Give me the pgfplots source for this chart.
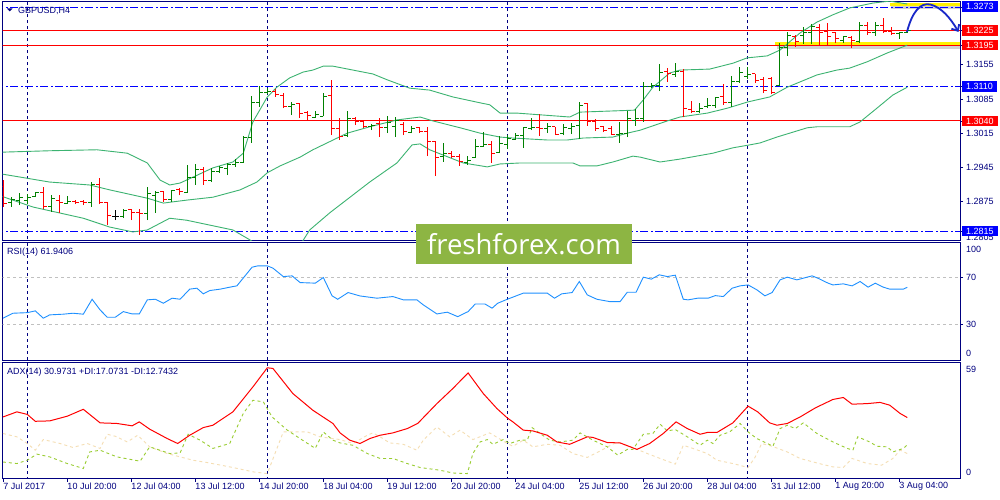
\documentclass[border=0pt]{standalone}
\usepackage{pgfplots}
\pgfplotsset{compat=1.18}
\usepackage{pgfplotstable}
\usepackage{fontspec}
\setmainfont{Liberation Sans}
\newfontfamily\logofont{Open Sans}
\usetikzlibrary{arrows.meta}
\definecolor{navy}{RGB}{0,0,128}
\definecolor{mtgreen}{RGB}{0,128,0}
\definecolor{mtred}{RGB}{255,0,0}
\definecolor{bbgreen}{RGB}{60,179,113}
\definecolor{rsiblue}{RGB}{30,144,255}
\definecolor{plusdi}{RGB}{154,205,50}
\definecolor{minusdi}{RGB}{245,222,179}
\definecolor{lblue}{RGB}{0,0,255}
\definecolor{silv}{RGB}{192,192,192}
\definecolor{logogreen}{RGB}{141,181,67}
\definecolor{arrowblue}{RGB}{25,40,200}

\pgfplotstableread{
i O H L C
1 1.2874 1.2884 1.2864 1.2880
2 1.2878 1.2893 1.2868 1.2884
3 1.2878 1.2891 1.2870 1.2884
4 1.2886 1.2895 1.2884 1.2893
6 1.2864 1.2888 1.2854 1.2882
8 1.2872 1.2886 1.2870 1.2876
11 1.2874 1.2915 1.2864 1.2909
15 1.2844 1.2860 1.2841 1.2856
18 1.2850 1.2905 1.2837 1.2891
19 1.2888 1.2897 1.2852 1.2893
21 1.2880 1.2899 1.2874 1.2897
23 1.2893 1.2950 1.2893 1.2925
24 1.2925 1.2952 1.2909 1.2940
26 1.2919 1.2944 1.2915 1.2936
27 1.2936 1.2948 1.2934 1.2944
28 1.2942 1.2954 1.2929 1.2950
29 1.2950 1.2962 1.2946 1.2954
30 1.2954 1.3009 1.2954 1.3007
31 1.3007 1.3091 1.2995 1.3077
32 1.3077 1.3111 1.3069 1.3099
33 1.3099 1.3107 1.3095 1.3101
36 1.3069 1.3079 1.3052 1.3073
39 1.3048 1.3060 1.3046 1.3054
40 1.3050 1.3097 1.3050 1.3089
43 1.3011 1.3060 1.3007 1.3044
46 1.3028 1.3034 1.3021 1.3030
48 1.3026 1.3050 1.3015 1.3036
49 1.3028 1.3048 1.3007 1.3040
51 1.3017 1.3030 1.3015 1.3024
55 1.2968 1.2995 1.2956 1.2974
58 1.2954 1.2968 1.2950 1.2960
59 1.2966 1.3003 1.2964 1.2987
60 1.2987 1.3017 1.2987 1.2991
62 1.2976 1.3009 1.2974 1.2993
63 1.2991 1.3011 1.2983 1.3005
64 1.3003 1.3015 1.3001 1.3011
65 1.3011 1.3028 1.2985 1.3026
66 1.3024 1.3046 1.3021 1.3026
68 1.3024 1.3036 1.3015 1.3028
70 1.3015 1.3034 1.3011 1.3026
71 1.3024 1.3036 1.3013 1.3028
72 1.3030 1.3079 1.3003 1.3071
77 1.3013 1.3038 1.2995 1.3015
78 1.3015 1.3060 1.3007 1.3044
79 1.3040 1.3064 1.3030 1.3044
80 1.3044 1.3120 1.3038 1.3111
81 1.3111 1.3118 1.3107 1.3113
82 1.3113 1.3156 1.3101 1.3140
84 1.3134 1.3158 1.3130 1.3142
87 1.3060 1.3077 1.3056 1.3066
88 1.3069 1.3087 1.3066 1.3071
89 1.3071 1.3089 1.3066 1.3087
91 1.3077 1.3132 1.3069 1.3120
92 1.3120 1.3150 1.3118 1.3138
93 1.3130 1.3150 1.3126 1.3134
97 1.3113 1.3199 1.3111 1.3191
98 1.3191 1.3222 1.3173 1.3214
100 1.3214 1.3232 1.3197 1.3220
101 1.3220 1.3238 1.3197 1.3234
105 1.3205 1.3214 1.3199 1.3212
107 1.3203 1.3242 1.3199 1.3236
109 1.3220 1.3242 1.3214 1.3236
112 1.3218 1.3222 1.3208 1.3220
113 1.3220 1.3228 1.3220 1.3224
}\bull

\pgfplotstableread{
i O H L C
0 1.2905 1.2919 1.2864 1.2872
5 1.2893 1.2905 1.2860 1.2864
7 1.2878 1.2888 1.2852 1.2874
9 1.2876 1.2878 1.2870 1.2874
10 1.2876 1.2878 1.2868 1.2874
12 1.2909 1.2923 1.2870 1.2874
13 1.2874 1.2874 1.2827 1.2846
16 1.2858 1.2860 1.2837 1.2852
17 1.2852 1.2860 1.2807 1.2850
20 1.2895 1.2897 1.2874 1.2880
22 1.2899 1.2903 1.2888 1.2895
25 1.2940 1.2946 1.2909 1.2919
34 1.3101 1.3105 1.3089 1.3095
35 1.3093 1.3097 1.3066 1.3069
37 1.3075 1.3077 1.3046 1.3056
38 1.3058 1.3060 1.3042 1.3052
41 1.3091 1.3124 1.3011 1.3024
42 1.3024 1.3046 1.3001 1.3009
44 1.3044 1.3048 1.3032 1.3038
45 1.3038 1.3042 1.3026 1.3028
47 1.3034 1.3046 1.3007 1.3026
50 1.3032 1.3038 1.3011 1.3019
52 1.3026 1.3028 1.3015 1.3019
53 1.3019 1.3028 1.2968 1.2997
54 1.2997 1.2999 1.2927 1.2966
56 1.2974 1.2979 1.2964 1.2968
57 1.2968 1.2972 1.2948 1.2956
61 1.2991 1.2999 1.2954 1.2974
67 1.3026 1.3054 1.3009 1.3024
69 1.3028 1.3028 1.3011 1.3013
73 1.3075 1.3077 1.3030 1.3038
74 1.3038 1.3044 1.3019 1.3024
75 1.3028 1.3030 1.3017 1.3021
76 1.3024 1.3030 1.3011 1.3013
83 1.3142 1.3148 1.3120 1.3136
85 1.3142 1.3146 1.3048 1.3066
86 1.3064 1.3081 1.3056 1.3060
90 1.3089 1.3115 1.3073 1.3077
94 1.3136 1.3136 1.3118 1.3122
95 1.3124 1.3130 1.3097 1.3103
96 1.3126 1.3130 1.3095 1.3099
99 1.3212 1.3216 1.3191 1.3203
102 1.3232 1.3238 1.3195 1.3220
103 1.3222 1.3240 1.3195 1.3212
104 1.3220 1.3222 1.3199 1.3208
106 1.3210 1.3214 1.3189 1.3205
108 1.3236 1.3242 1.3216 1.3220
110 1.3236 1.3251 1.3220 1.3222
111 1.3222 1.3232 1.3216 1.3218
}\bear

\pgfplotstableread{
i O H L C
14 1.2844 1.2858 1.2837 1.2844
}\doji

\pgfplotstableread{
x y
-0.4 1.2976
5.8 1.2979
11.7 1.2981
15.5 1.2974
18.0 1.2954
19.6 1.2919
20.8 1.2909
22.1 1.2913
23.7 1.2925
26.2 1.2944
28.7 1.2956
30.0 1.2974
31.2 1.3038
33.0 1.3089
34.2 1.3109
35.8 1.3128
37.5 1.3140
38.7 1.3144
40.0 1.3152
41.2 1.3152
43.7 1.3144
46.2 1.3136
48.0 1.3124
50.8 1.3107
53.3 1.3103
56.2 1.3089
59.6 1.3077
60.8 1.3073
62.1 1.3056
64.2 1.3056
70.8 1.3048
72.1 1.3058
75.5 1.3060
78.9 1.3062
80.0 1.3083
81.2 1.3109
82.3 1.3124
83.3 1.3138
84.6 1.3144
88.3 1.3146
91.2 1.3158
93.0 1.3169
95.5 1.3173
97.1 1.3185
99.6 1.3220
101.7 1.3242
103.7 1.3257
105.8 1.3271
108.7 1.3281
110.8 1.3285
113.0 1.3279
}\bbup

\pgfplotstableread{
x y
-0.4 1.2932
5.8 1.2915
10.8 1.2909
13.3 1.2899
18.0 1.2882
20.0 1.2872
22.9 1.2878
26.2 1.2884
29.6 1.2899
31.7 1.2915
33.0 1.2934
34.6 1.2948
37.1 1.2966
38.7 1.2981
43.0 1.3015
45.8 1.3028
49.2 1.3042
52.1 1.3048
53.7 1.3040
57.1 1.3026
59.6 1.3015
62.1 1.3007
63.7 1.3005
68.0 1.3001
70.5 1.3001
72.5 1.3005
76.2 1.3007
78.0 1.3015
79.6 1.3021
83.0 1.3040
84.6 1.3048
88.0 1.3056
90.5 1.3066
93.1 1.3079
95.8 1.3089
98.0 1.3109
101.7 1.3134
104.2 1.3144
105.8 1.3148
108.0 1.3161
110.5 1.3179
113.0 1.3195
}\bbmid

\pgfplotstableread{
x y
-0.4 1.2887
3.7 1.2864
10.0 1.2841
13.3 1.2823
16.2 1.2813
18.0 1.2817
20.8 1.2841
22.9 1.2837
28.7 1.2817
30.8 1.2797
32.7 1.2776
35.2 1.2766
37.1 1.2786
38.3 1.2817
40.8 1.2852
45.8 1.2915
49.2 1.2954
51.1 1.2991
52.1 1.2993
53.3 1.2981
57.5 1.2954
60.5 1.2946
62.1 1.2952
64.6 1.2954
71.2 1.2954
72.1 1.2948
74.2 1.2948
76.2 1.2956
78.7 1.2968
79.6 1.2966
82.1 1.2956
84.6 1.2962
88.7 1.2974
91.2 1.2985
93.3 1.2991
94.6 1.2995
96.7 1.3007
98.3 1.3015
100.5 1.3026
101.7 1.3028
105.8 1.3028
107.1 1.3038
109.2 1.3066
111.2 1.3093
113.0 1.3109
}\bblow

\pgfplotstableread{
x y
-0.04 35.6
1.2 39.8
3.0 40.3
4.0 41.8
5.0 35.6
5.8 38.4
7.5 39.0
8.7 39.8
10.0 39.0
11.1 51.7
12.1 42.6
13.0 36.4
14.0 36.4
15.0 41.2
16.1 39.2
17.0 39.2
18.0 51.2
19.0 51.7
20.0 48.3
21.1 52.6
22.1 51.7
23.3 60.3
24.2 61.1
25.0 56.3
25.8 59.1
27.1 60.3
28.7 62.5
29.2 63.1
31.1 79.0
31.8 80.1
33.0 80.1
33.7 78.2
35.0 71.0
36.1 71.6
37.1 65.9
39.0 65.4
40.0 70.2
41.1 54.6
41.8 51.7
43.1 57.4
44.6 54.5
46.7 52.6
48.7 54.0
50.0 51.2
51.7 51.2
52.5 46.9
54.2 39.2
55.5 40.7
56.8 36.9
58.1 41.2
59.0 47.7
60.2 47.7
61.1 44.1
61.8 48.3
63.0 51.7
65.0 56.9
68.0 56.9
68.9 52.6
69.8 56.3
71.1 57.4
72.0 66.8
73.0 55.4
74.2 51.7
75.8 49.7
77.1 49.7
78.0 57.7
79.1 57.7
80.0 70.5
81.0 68.8
82.0 72.5
83.0 71.0
84.0 72.2
85.0 51.7
85.6 51.2
86.8 52.6
88.1 52.6
89.0 54.8
90.0 54.0
91.1 61.1
92.1 63.1
93.1 63.9
94.2 59.7
95.2 54.6
96.1 57.4
97.1 68.2
98.0 70.5
99.2 68.2
101.1 71.6
101.8 69.7
103.1 65.4
103.7 63.9
105.0 64.8
106.1 63.1
107.1 66.8
108.1 62.0
109.0 65.4
110.0 62.0
110.8 60.3
112.5 60.3
113.0 61.9
}\rsi

\pgfplotstableread{
x y
-0.04 31.3
1.7 33.9
3.0 32.6
4.0 29.1
5.8 29.3
8.0 31.7
10.0 35.2
12.1 28.3
14.2 28.0
16.1 26.8
17.0 28.8
18.3 25.1
20.5 20.3
21.8 17.8
23.3 22.0
25.0 25.9
26.2 27.1
28.7 33.9
31.2 46.6
33.0 56.3
33.7 56.0
36.2 43.2
38.7 34.7
41.2 28.0
42.1 23.2
43.3 19.5
44.6 17.8
45.8 20.3
47.1 22.0
48.7 23.2
50.5 25.4
51.8 28.0
54.2 38.1
56.2 45.8
58.1 53.7
60.0 43.2
61.7 35.6
63.0 30.8
63.7 28.8
65.0 24.6
66.2 24.2
68.0 22.0
69.2 18.6
70.8 17.4
73.0 21.2
73.7 20.9
75.5 18.3
77.1 18.1
79.2 14.8
80.8 17.8
82.5 22.9
84.1 28.8
85.5 25.4
87.1 22.5
88.0 23.4
89.2 23.4
91.2 28.3
93.1 36.8
94.3 33.9
95.8 28.3
96.7 27.1
98.0 28.0
99.6 31.3
101.5 35.9
103.7 40.2
105.0 41.2
106.1 37.8
108.0 38.1
109.6 38.7
110.8 37.3
112.1 33.1
113.0 31.0
}\adx

\pgfplotstableread{
x y
-0.04 8.4
1.7 7.6
3.0 9.3
4.2 12.4
5.8 11.0
8.0 7.6
10.0 5.1
10.8 13.5
12.1 14.4
14.2 11.0
17.1 8.8
18.3 16.1
20.8 12.7
22.1 13.0
23.1 22.5
24.6 19.5
26.2 15.3
28.3 17.8
30.0 33.1
31.2 39.8
32.5 39.0
33.6 31.3
35.5 24.6
37.1 20.3
39.0 15.3
40.0 23.7
41.2 19.5
42.1 18.1
43.7 16.9
45.5 12.7
47.1 10.2
48.7 10.2
50.5 7.6
52.1 5.6
54.6 4.2
56.2 2.8
58.0 2.5
58.7 12.7
59.6 18.6
60.5 19.8
61.2 17.4
62.5 19.8
63.3 17.8
64.6 19.5
65.5 19.5
66.1 25.9
67.1 22.9
68.3 19.5
69.6 18.6
71.2 19.5
72.1 23.2
73.7 19.5
75.5 16.1
76.8 11.9
78.0 14.8
78.7 14.8
80.0 22.5
81.2 22.9
82.1 27.6
83.0 24.2
84.0 24.9
85.5 21.2
87.1 16.9
88.0 19.5
88.7 17.8
89.6 22.0
90.8 23.7
92.1 28.0
93.1 23.7
94.2 20.3
95.5 17.8
96.2 16.4
97.1 25.4
98.0 27.1
99.0 25.4
100.0 28.3
101.7 22.9
103.7 18.6
105.5 15.3
106.2 14.4
106.8 21.2
108.3 18.6
109.2 16.4
110.5 16.1
111.2 13.5
112.5 15.3
113.0 17.1
}\pdi

\pgfplotstableread{
x y
-0.04 22.9
1.7 21.2
3.0 17.8
4.0 14.4
5.0 19.8
7.1 17.8
8.7 15.8
10.5 17.8
12.1 15.3
13.0 22.5
14.0 21.5
15.5 18.6
16.8 22.0
18.3 16.1
20.5 12.7
22.1 11.0
23.7 9.3
25.5 8.1
28.7 5.6
31.2 3.4
33.0 2.5
35.0 23.7
38.0 23.7
39.6 21.2
42.1 19.8
43.7 17.8
45.5 22.0
46.2 23.2
47.1 21.2
48.3 18.1
50.0 17.4
51.7 14.4
52.5 19.5
54.2 26.2
55.8 21.2
57.1 24.6
58.7 19.8
60.8 23.2
63.0 17.8
63.7 16.4
65.0 19.5
66.2 16.1
68.0 17.4
69.6 16.9
71.2 12.7
73.0 10.7
74.6 14.0
76.7 18.6
78.3 16.4
80.5 12.7
82.1 10.2
84.0 7.3
85.0 16.9
86.2 15.3
88.0 12.7
89.2 9.3
91.2 7.6
93.1 5.6
94.0 11.0
94.8 17.8
96.1 16.4
98.0 13.5
99.6 10.2
101.7 7.9
103.7 5.9
105.0 5.6
106.1 10.2
108.0 7.6
109.8 6.8
111.2 10.2
112.1 14.4
113.0 12.7
}\mdi

\pgfplotsset{
  mtaxis/.style={scale only axis, width=957.5pt, xmin=-0.1, xmax=119.59,
    anchor=north west, axis line style={draw=navy, line width=0.8pt},
    tick style={draw=navy, line width=0.6pt}, major tick length=3pt, tick align=outside,
    xtick=\empty, ytick pos=right, yticklabels={}, clip mode=individual,
    every tick label/.append style={font=\fontsize{9}{10}\selectfont, text=navy}},
  barp/.style={draw=none, mark=none, forget plot},
  vgrid/.style={navy, line width=0.8pt, dash pattern=on 3pt off 3pt, forget plot},
}
\tikzset{
  plab/.style={anchor=west, xshift=6pt, inner sep=0pt, text=navy, font=\fontsize{9}{10}\selectfont},
  bbox/.style={anchor=west, xshift=1.5pt, inner xsep=4.3pt, inner ysep=0pt, minimum height=10.5pt, text=white, font=\fontsize{9}{10}\selectfont},
}

\begin{document}
\begin{tikzpicture}
\fill[white] (0,0) rectangle (1000pt,-500pt);
\useasboundingbox (0,0) rectangle (1000pt,-500pt);

% ---------------- price panel
\begin{axis}[mtaxis, at={(2.5pt,-1.5pt)}, height=238.5pt, ymin=1.27965, ymax=1.32842,
  ytick={1.3273,1.3225,1.3195,1.3155,1.3110,1.3085,1.3040,1.3015,1.2945,1.2875,1.2815}]
% yellow highlights
\fill[black!18] (axis cs:96.7,1.3194) rectangle (axis cs:119.59,1.3188);
\fill[yellow] (axis cs:96.5,1.3202) rectangle (axis cs:119.59,1.3194);
\fill[black!18] (axis cs:111.0,1.3274) rectangle (axis cs:119.59,1.3269);
\fill[yellow] (axis cs:110.8,1.3282) rectangle (axis cs:119.59,1.3274);
% grid verticals
\addplot[vgrid] coordinates {(3,1.27) (3,1.34)};
\addplot[vgrid] coordinates {(33,1.27) (33,1.34)};
\addplot[vgrid] coordinates {(63,1.27) (63,1.34)};
\addplot[vgrid] coordinates {(93,1.27) (93,1.34)};
% levels
\addplot[mtred, line width=0.9pt, forget plot] coordinates {(-1,1.3225) (125,1.3225)};
\addplot[mtred, line width=0.9pt, forget plot] coordinates {(-1,1.3195) (125,1.3195)};
\addplot[mtred, line width=0.9pt, forget plot] coordinates {(-1,1.3040) (125,1.3040)};
\addplot[lblue, line width=0.9pt, dash pattern=on 8pt off 2.5pt on 2pt off 2.5pt, forget plot] coordinates {(-1,1.3273) (125,1.3273)};
\addplot[lblue, line width=0.9pt, dash pattern=on 8pt off 2.5pt on 2pt off 2.5pt, forget plot] coordinates {(-1,1.3110) (125,1.3110)};
\addplot[lblue, line width=0.9pt, dash pattern=on 8pt off 2.5pt on 2pt off 2.5pt, forget plot] coordinates {(-1,1.2815) (125,1.2815)};
% bollinger
\addplot[bbgreen, line width=0.9pt, forget plot] table[x=x,y=y] {\bbup};
\addplot[bbgreen, line width=0.9pt, forget plot] table[x=x,y=y] {\bbmid};
\addplot[bbgreen, line width=0.9pt, forget plot] table[x=x,y=y] {\bblow};
% bars bull
\addplot[barp, error bars/.cd, y dir=plus, y explicit, error mark=none,
  error bar style={line width=1.2pt, draw=mtgreen}] table[x=i, y=L, y error expr=\thisrow{H}-\thisrow{L}] {\bull};
\addplot[barp, error bars/.cd, x dir=minus, x fixed=0.42, error mark=none,
  error bar style={line width=1pt, draw=mtgreen}] table[x=i, y=O] {\bull};
\addplot[barp, error bars/.cd, x dir=plus, x fixed=0.42, error mark=none,
  error bar style={line width=1pt, draw=mtgreen}] table[x=i, y=C] {\bull};
% bars bear
\addplot[barp, error bars/.cd, y dir=plus, y explicit, error mark=none,
  error bar style={line width=1.2pt, draw=mtred}] table[x=i, y=L, y error expr=\thisrow{H}-\thisrow{L}] {\bear};
\addplot[barp, error bars/.cd, x dir=minus, x fixed=0.42, error mark=none,
  error bar style={line width=1pt, draw=mtred}] table[x=i, y=O] {\bear};
\addplot[barp, error bars/.cd, x dir=plus, x fixed=0.42, error mark=none,
  error bar style={line width=1pt, draw=mtred}] table[x=i, y=C] {\bear};
% doji
\addplot[barp, error bars/.cd, y dir=plus, y explicit, error mark=none,
  error bar style={line width=1.2pt, draw=black}] table[x=i, y=L, y error expr=\thisrow{H}-\thisrow{L}] {\doji};
\addplot[barp, error bars/.cd, x dir=minus, x fixed=0.42, error mark=none,
  error bar style={line width=1pt, draw=black}] table[x=i, y=O] {\doji};
\addplot[barp, error bars/.cd, x dir=plus, x fixed=0.42, error mark=none,
  error bar style={line width=1pt, draw=black}] table[x=i, y=C] {\doji};
% hand-drawn arrow
\draw[arrowblue, line width=1.8pt, -{Straight Barb[length=5pt,width=9pt]}]
  (axis cs:112.96,1.3222) .. controls (axis cs:113.6,1.3262) and (axis cs:114.6,1.3283) ..
  (axis cs:115.9,1.3278) .. controls (axis cs:117.3,1.3272) and (axis cs:118.4,1.3250) ..
  (axis cs:119.4,1.3222);
% right labels
\node[plab] at (axis cs:119.59,1.3155) {1.3155};
\node[plab] at (axis cs:119.59,1.3085) {1.3085};
\node[plab] at (axis cs:119.59,1.3015) {1.3015};
\node[plab] at (axis cs:119.59,1.2945) {1.2945};
\node[plab] at (axis cs:119.59,1.2875) {1.2875};
\node[plab] at (axis cs:119.59,1.2801) {1.2805};
\node[bbox, fill=lblue] at (axis cs:119.59,1.3274) {1.3273};
\node[bbox, fill=mtred] at (axis cs:119.59,1.3225) {1.3225};
\node[bbox, fill=mtred] at (axis cs:119.59,1.3195) {1.3195};
\node[bbox, fill=lblue] at (axis cs:119.59,1.3110) {1.3110};
\node[bbox, fill=mtred] at (axis cs:119.59,1.3040) {1.3040};
\node[bbox, fill=lblue] at (axis cs:119.59,1.2815) {1.2815};
\end{axis}

% ---------------- RSI panel
\begin{axis}[mtaxis, at={(2.5pt,-242.5pt)}, height=117.5pt, ymin=0, ymax=100, ytick={30,70}]
\addplot[silv, line width=0.8pt, dash pattern=on 3pt off 3pt, forget plot] coordinates {(-1,70) (125,70)};
\addplot[silv, line width=0.8pt, dash pattern=on 3pt off 3pt, forget plot] coordinates {(-1,30) (125,30)};
\addplot[vgrid] coordinates {(3,-10) (3,110)};
\addplot[vgrid] coordinates {(33,-10) (33,110)};
\addplot[vgrid] coordinates {(63,-10) (63,110)};
\addplot[vgrid] coordinates {(93,-10) (93,110)};
\addplot[rsiblue, line width=0.9pt] table[x=x,y=y] {\rsi};
\node[plab] at (axis cs:119.59,94.5) {100};
\node[plab] at (axis cs:119.59,70) {70};
\node[plab] at (axis cs:119.59,30) {30};
\node[plab] at (axis cs:119.59,6) {0};
\end{axis}

% ---------------- ADX panel
\begin{axis}[mtaxis, at={(2.5pt,-362.5pt)}, height=116pt, ymin=0, ymax=59, ytick=\empty,
  xtick={0,8,16,24,32,40,48,56,64,72,80,88,96,104,112}, xtick pos=bottom,
  xticklabels={7 Jul 2017,10 Jul 20:00,12 Jul 04:00,13 Jul 12:00,14 Jul 20:00,18 Jul 04:00,19 Jul 12:00,20 Jul 20:00,24 Jul 04:00,25 Jul 12:00,26 Jul 20:00,28 Jul 04:00,31 Jul 12:00,1 Aug 20:00,3 Aug 04:00},
  xticklabel style={anchor=north west, inner xsep=0pt, inner ysep=0pt, yshift=-1pt}]
\addplot[vgrid] coordinates {(3,-10) (3,70)};
\addplot[vgrid] coordinates {(33,-10) (33,70)};
\addplot[vgrid] coordinates {(63,-10) (63,70)};
\addplot[vgrid] coordinates {(93,-10) (93,70)};
\addplot[minusdi, line width=0.9pt, dash pattern=on 3pt off 3pt] table[x=x,y=y] {\mdi};
\addplot[plusdi, line width=0.9pt, dash pattern=on 3pt off 3pt] table[x=x,y=y] {\pdi};
\addplot[mtred, line width=1pt] table[x=x,y=y] {\adx};
\node[plab] at (axis cs:119.59,55.6) {59};
\node[plab] at (axis cs:119.59,3.2) {0};
\end{axis}

% ---------------- panel captions
\fill[navy] (7pt,-8.5pt) -- (12.5pt,-8.5pt) -- (9.75pt,-11.5pt) -- cycle;
\node[anchor=west, inner sep=0pt, text=navy, font=\fontsize{9}{10}\selectfont] at (18pt,-10.5pt) {GBPUSD,H4};
\node[anchor=west, inner sep=0pt, text=navy, font=\fontsize{9}{10}\selectfont] at (7pt,-251.7pt) {RSI(14) 61.9406};
\node[anchor=west, inner sep=0pt, text=navy, font=\fontsize{9}{10}\selectfont] at (7pt,-371.7pt) {ADX(14) 30.9731 +DI:17.0731 -DI:12.7432};

% ---------------- logo
\node[fill=logogreen, minimum width=216pt, minimum height=40pt, inner sep=0pt, text=white,
  font=\logofont\fontsize{27.5}{30}\selectfont] at (524pt,-244.3pt) {freshforex.com};
\end{tikzpicture}
\end{document}
